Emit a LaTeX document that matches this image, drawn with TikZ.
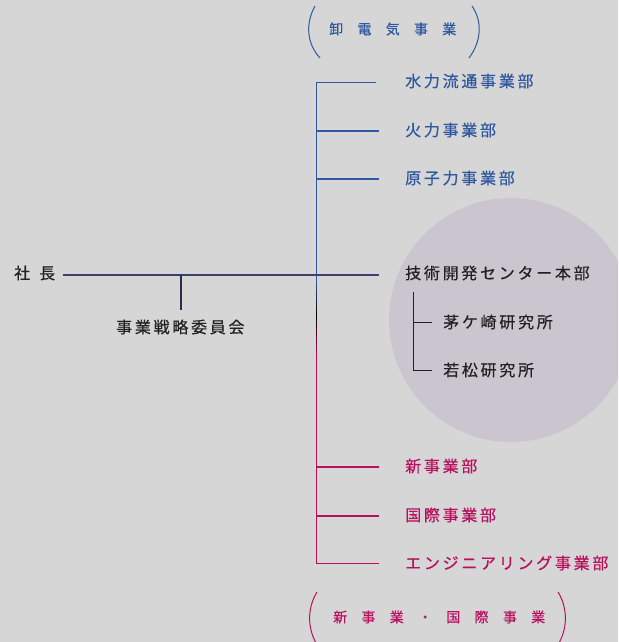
\documentclass[tikz,border=0pt]{standalone}
\usepackage{fontspec}
\setmainfont[FakeBold=0.5]{Noto Sans CJK JP}
\newfontfamily\jp[LetterSpace=17,FakeBold=0.5]{Noto Sans CJK JP}
\newfontfamily\jpwide[LetterSpace=102,FakeBold=0.5]{Noto Sans CJK JP}
\definecolor{bg}{HTML}{D6D6D6}
\definecolor{blu}{HTML}{2F58A0}
\definecolor{mag}{HTML}{B8105F}
\definecolor{navy}{HTML}{3C4070}
\definecolor{circ}{HTML}{CAC5CF}
\definecolor{ink}{HTML}{222222}
\tikzset{
  lbl/.style={anchor=west,inner sep=0pt,font=\jp\fontsize{16}{16}\selectfont},
  head/.style={inner sep=0pt,font=\jpwide\fontsize{14}{14}\selectfont},
  thinbr/.style={line width=1pt},
  thickbr/.style={line width=2pt},
}
\begin{document}
\begin{tikzpicture}[x=1pt,y=-1pt]
\useasboundingbox (0,0) rectangle (618,642);
\fill[bg] (0,0) rectangle (618,642);
\begin{scope}
\clip (0,0) rectangle (618,642);
\fill[circ] (511,320) circle (122);
% parentheses
\draw[blu,line width=1pt] (315,6) .. controls (305,24) and (307,44) .. (320,58);
\draw[blu,line width=1pt] (472,6) .. controls (483,22) and (481,42) .. (469,58);
\draw[mag,line width=1pt] (317,592) .. controls (307,608) and (307,630) .. (318,646);
\draw[mag,line width=1pt] (558,592) .. controls (568,608) and (568,630) .. (557,646);
\end{scope}
% headings
\node[head,blu,anchor=west] (hTop) at (329,29) {卸電気事業};
\node[head,mag,anchor=west] (hBot) at (333,617) {新事業・国際事業};
% president and committee
\node[lbl,ink,font=\fontsize{16}{16}\selectfont] (pres) at (14,273) {社\hspace{9pt}長};
\node[lbl,ink] (comm) at (116,327) {事業戦略委員会};
% labels
\node[lbl,blu] (d1) at (405,81) {水力流通事業部};
\node[lbl,blu] (d2) at (405,130) {火力事業部};
\node[lbl,blu] (d3) at (405,178) {原子力事業部};
\node[lbl,ink] (d4) at (405,273) {技術開発センター本部};
\node[lbl,ink] (s1) at (443,322) {茅ケ崎研究所};
\node[lbl,ink] (s2) at (443,370) {若松研究所};
\node[lbl,mag] (d5) at (405,466) {新事業部};
\node[lbl,mag] (d6) at (405,515) {国際事業部};
\node[lbl,mag] (d7) at (405,563) {エンジニアリング事業部};
% trunk coordinates
\coordinate (t1) at (316,82);
\coordinate (t2) at (316,131);
\coordinate (t3) at (316,179);
\coordinate (t5) at (316,467);
\coordinate (t6) at (316,516);
\coordinate (t7) at (316,563);
\coordinate (cj) at (181,275);
% trunk with colour gradient
\draw[blu,line width=1pt] (t1) -- (316,281);
\foreach \i in {0,...,35} {
  \pgfmathsetmacro{\p}{100-\i*100/35}
  \draw[line width=1pt,color=blu!\p!black] (316,280+\i) -- (316,281.2+\i);
}
\foreach \i in {0,...,41} {
  \pgfmathsetmacro{\p}{\i*100/41}
  \draw[line width=1pt,color=mag!\p!black] (316,316+\i) -- (316,317.2+\i);
}
\draw[mag,line width=1pt] (316,357) -- (t7);
% branches
\draw[blu,thinbr] (t1) -- ([xshift=-29pt]d1.west |- t1);
\draw[blu,thickbr] (t2) -- ([xshift=-26pt]d2.west |- t2);
\draw[blu,thickbr] (t3) -- ([xshift=-26pt]d3.west |- t3);
\draw[mag,thickbr] (t5) -- ([xshift=-26pt]d5.west |- t5);
\draw[mag,thickbr] (t6) -- ([xshift=-26pt]d6.west |- t6);
\draw[mag,thinbr] (t7) -- ([xshift=-26pt]d7.west |- t7);
% main line
\draw[navy,line width=2pt] ([xshift=8pt]pres.east |- cj) -- ([xshift=-26pt]d4.west |- cj);
\draw[navy!70!black,line width=2pt] (cj) -- ([yshift=9pt]comm.north -| cj);
% sub bracket in circle
\coordinate (bk) at (413,292);
\draw[ink,line width=0.8pt] (bk) -- (bk |- s2) -- ([xshift=-11pt]s2.west);
\draw[ink,line width=0.8pt] (bk |- s1) -- ([xshift=-11pt]s1.west);
\end{tikzpicture}
\end{document}
